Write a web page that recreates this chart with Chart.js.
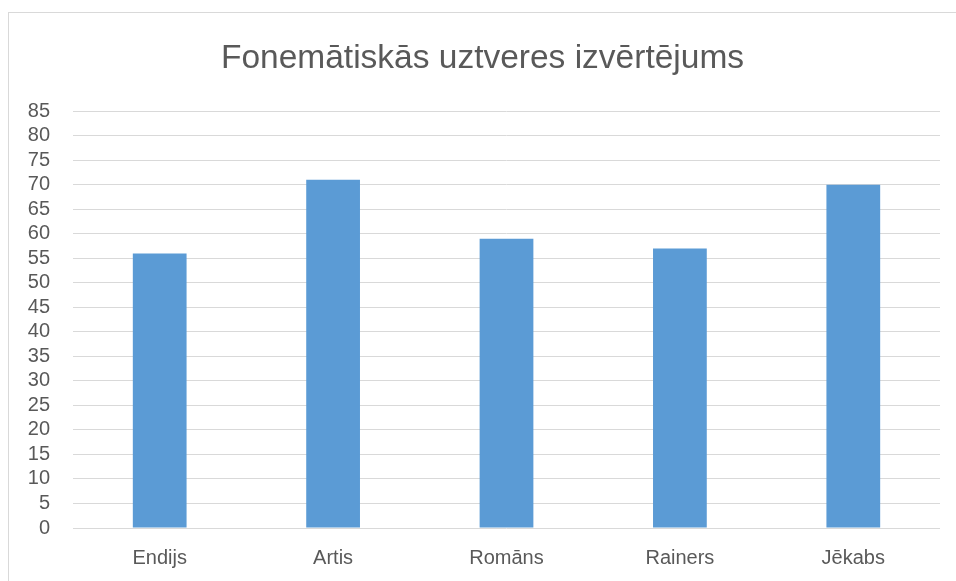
<!DOCTYPE html>
<html lang="lv">
<head>
    <meta charset="UTF-8">
    <title>Fonemātiskās uztveres izvērtējums</title>
    <script src="https://cdn.jsdelivr.net/npm/chart.js"></script>
    <style>
        body { margin: 0; background: #fff; }
        #box { position: absolute; left: 8px; top: 12px; width: 960px; height: 590px; border: 1px solid #d9d9d9; }
        #wrap { position: absolute; left: 0; top: 0; width: 947px; height: 575px; }
    </style>
</head>
<body>
    <div id="box"><div id="wrap"><canvas id="chartCanvas"></canvas></div></div>

    <script>
        var names = ['Endijs', 'Artis', 'Romāns', 'Rainers', 'Jēkabs'];
        var scores = [56, 71, 59, 57, 70];
        var yMin = 0, yMax = 85, yStep = 5;
        var chartTitle = 'Fonemātiskās uztveres izvērtējums';

        var fontName = "'Liberation Sans', Arial, sans-serif";
        var ctx = document.getElementById('chartCanvas').getContext('2d');
        new Chart(ctx, {
            type: 'bar',
            data: {
                labels: names,
                datasets: [{
                    label: 'Rezultāts',
                    data: scores,
                    backgroundColor: '#5b9bd5',
                    barPercentage: 0.31,
                    categoryPercentage: 1
                }]
            },
            options: {
                responsive: true,
                maintainAspectRatio: false,
                animation: false,
                layout: { padding: { left: 16, right: 16, top: 0, bottom: 0 } },
                plugins: {
                    legend: { display: false },
                    tooltip: { enabled: false },
                    title: {
                        display: true,
                        text: chartTitle,
                        color: '#595959',
                        font: { family: fontName, size: 33.5, weight: 'normal' },
                        padding: { top: 26, bottom: 32 }
                    }
                },
                scales: {
                    x: {
                        grid: { display: false, drawTicks: false },
                        border: { display: false },
                        ticks: { color: '#595959', font: { family: fontName, size: 20 }, padding: 18 }
                    },
                    y: {
                        min: yMin, max: yMax,
                        grid: { color: '#d9d9d9', lineWidth: 1, drawTicks: false },
                        border: { display: false },
                        ticks: { stepSize: yStep, autoSkip: false, color: '#595959', font: { family: fontName, size: 20 }, padding: 23 },
                        afterFit: function (scale) { scale.width = 48; }
                    }
                }
            }
        });
    </script>
</body>
</html>
